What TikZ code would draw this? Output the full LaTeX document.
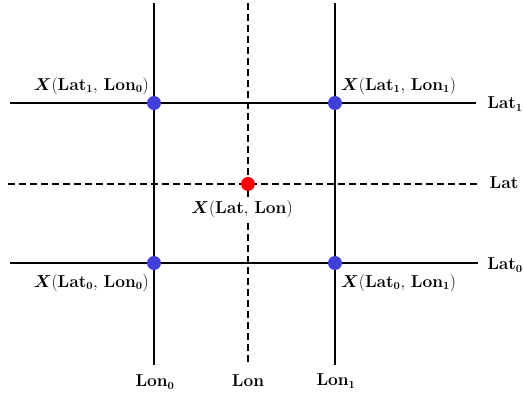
\documentclass[tikz,border=0pt]{standalone}
\usepackage{amsmath,bm}
\begin{document}
\begin{tikzpicture}[x=1pt,y=-1pt,
  ln/.style={line width=1.6pt,black},
  dl/.style={line width=1.6pt,black,dash pattern=on 7pt off 4pt},
  bdot/.style={circle,fill={rgb,255:red,64;green,64;blue,216},inner sep=0pt,minimum size=14pt},
  rdot/.style={circle,fill=red,inner sep=0pt,minimum size=14pt},
  lbl/.style={font=\fontsize{16}{18}\selectfont,inner sep=0pt}]
\useasboundingbox (0,0) rectangle (523,395);
% coordinates
\coordinate (v0t) at (154,3); \coordinate (v0b) at (154,365);
\coordinate (vmt) at (248,3); \coordinate (vmb) at (248,365);
\coordinate (v1t) at (335,3); \coordinate (v1b) at (335,365);
\coordinate (h1l) at (10,103); \coordinate (h1r) at (476,103);
\coordinate (hml) at (8,184); \coordinate (hmr) at (480,184);
\coordinate (h0l) at (10,263); \coordinate (h0r) at (478,263);
\draw[ln] (v0t) -- (v0b);
\draw[dl] (vmt) -- (vmb);
\draw[ln] (v1t) -- (v1b);
\draw[ln] (h1l) -- (h1r);
\draw[dl] (hml) -- (hmr);
\draw[ln] (h0l) -- (h0r);
\node[bdot] (p11) at (154,103) {};
\node[bdot] (p12) at (335,103) {};
\node[bdot] (p01) at (154,263) {};
\node[bdot] (p02) at (335,263) {};
\node[rdot] (px) at (248,184) {};
\node[lbl,anchor=east] (l11) at (149,86) {$\bm{X}(\mathbf{Lat}_{\mathbf{1}},\,\mathbf{Lon}_{\mathbf{0}})$};
\node[lbl,anchor=west] (l12) at (341,86) {$\bm{X}(\mathbf{Lat}_{\mathbf{1}},\,\mathbf{Lon}_{\mathbf{1}})$};
\node[lbl,fill=white,inner sep=1pt] (lx) at (242,209) {$\bm{X}(\mathbf{Lat},\,\mathbf{Lon})$};
\node[lbl,anchor=east] (l01) at (149,283) {$\bm{X}(\mathbf{Lat}_{\mathbf{0}},\,\mathbf{Lon}_{\mathbf{0}})$};
\node[lbl,anchor=west] (l02) at (341,283) {$\bm{X}(\mathbf{Lat}_{\mathbf{0}},\,\mathbf{Lon}_{\mathbf{1}})$};
\node[lbl] (la1) at (505,104) {$\mathbf{Lat}_{\mathbf{1}}$};
\node[lbl] (la) at (504,183) {$\mathbf{Lat}$};
\node[lbl] (la0) at (505,265) {$\mathbf{Lat}_{\mathbf{0}}$};
\node[lbl] (lo0) at (155,382) {$\mathbf{Lon}_{\mathbf{0}}$};
\node[lbl] (lo) at (248,381) {$\mathbf{Lon}$};
\node[lbl] (lo1) at (336,381) {$\mathbf{Lon}_{\mathbf{1}}$};
\end{tikzpicture}
\end{document}
